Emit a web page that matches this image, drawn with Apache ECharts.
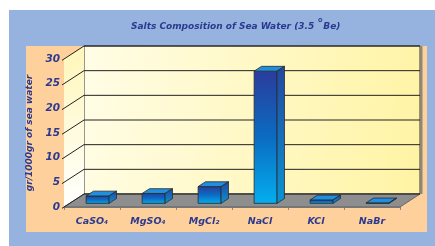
<!DOCTYPE html>
<html>
<head>
<meta charset="utf-8">
<script src="https://cdn.jsdelivr.net/npm/echarts@6/dist/echarts.min.js"></script>
<style>
  html, body { margin: 0; padding: 0; background: #ffffff; }
  #chart { width: 435px; height: 246px; }
</style>
</head>
<body>
<div id="chart"></div>
<script>
// data
var categories = ['CaSO₄', 'MgSO₄', 'MgCl₂', 'NaCl', 'KCl', 'NaBr'];
var saltValues = [1.5, 2.0, 3.4, 26.8, 0.7, 0.1];
var yTicks = [0, 5, 10, 15, 20, 25, 30];

// 3d depth of the box and where bars sit in it
var DX = 20, DY = -13;
var F0 = 0.28, F1 = 0.65;
var NAVY = '#2b3990';
var FONT = 'DejaVu Sans';

var myChart = echarts.init(document.getElementById('chart'));

function renderWalls(params, api) {
  var cs = params.coordSys;
  var x0 = cs.x, x1 = cs.x + cs.width, yt = cs.y, yb = cs.y + cs.height;
  var children = [];
  // back wall
  children.push({
    type: 'rect',
    shape: { x: x0 + DX, y: yt + DY, width: cs.width, height: cs.height },
    style: {
      fill: new echarts.graphic.LinearGradient(0, 0, 1, 0.3, [
        { offset: 0, color: '#fffde6' },
        { offset: 1, color: '#fff4a6' }
      ]),
      stroke: '#333', lineWidth: 1
    }
  });
  // shadow strip on the right of back wall
  children.push({
    type: 'line',
    shape: { x1: x1 + DX + 1.5, y1: yt + DY, x2: x1 + DX + 1.5, y2: yb + DY },
    style: { stroke: '#8a8a7a', lineWidth: 2 }
  });
  // left wall
  children.push({
    type: 'polygon',
    shape: { points: [[x0, yt], [x0 + DX, yt + DY], [x0 + DX, yb + DY], [x0, yb]] },
    style: {
      fill: new echarts.graphic.LinearGradient(0, 0, 1, 1, [
        { offset: 0, color: '#fff6b8' },
        { offset: 1, color: '#ffffff' }
      ])
    }
  });
  // floor
  children.push({
    type: 'polygon',
    shape: { points: [[x0, yb], [x1, yb], [x1 + DX, yb + DY], [x0 + DX, yb + DY]] },
    style: { fill: '#8e8e8e', stroke: '#555', lineWidth: 0.8 }
  });
  // grid lines on left and back walls
  yTicks.forEach(function (v) {
    var y = api.coord([0, v])[1];
    children.push({
      type: 'polyline',
      shape: { points: [[x0 - 2, y + 1.3], [x0 + DX, y + DY], [x1 + DX, y + DY]] },
      style: { stroke: '#222', lineWidth: 1, fill: null }
    });
  });
  return { type: 'group', children: children };
}

function renderBar(params, api) {
  var i = api.value(0), v = api.value(1);
  var base = api.coord([i, 0]);
  var top = api.coord([i, v]);
  var w = api.size([1, 0])[0] * 0.41;
  var fx = base[0] - w / 2 + F0 * DX;
  var fy0 = base[1] + F0 * DY;
  var fy1 = top[1] + F0 * DY;
  var ddx = (F1 - F0) * DX, ddy = (F1 - F0) * DY;
  var stroke = { stroke: '#2a2a2a', lineWidth: 0.8 };
  return {
    type: 'group',
    children: [
      {
        type: 'rect',
        shape: { x: fx, y: fy1, width: w, height: fy0 - fy1 },
        style: Object.assign({
          fill: new echarts.graphic.LinearGradient(0, 0, 0, 1, [
            { offset: 0, color: '#2a3c9c' },
            { offset: 0.5, color: '#0b6cc2' },
            { offset: 1, color: '#03aeef' }
          ])
        }, stroke)
      },
      {
        type: 'polygon',
        shape: { points: [[fx, fy1], [fx + w, fy1], [fx + w + ddx, fy1 + ddy], [fx + ddx, fy1 + ddy]] },
        style: Object.assign({ fill: '#1f8fdf' }, stroke)
      },
      {
        type: 'polygon',
        shape: { points: [[fx + w, fy1], [fx + w + ddx, fy1 + ddy], [fx + w + ddx, fy0 + ddy], [fx + w, fy0]] },
        style: Object.assign({
          fill: new echarts.graphic.LinearGradient(0, 0, 0, 1, [
            { offset: 0, color: '#23479f' },
            { offset: 1, color: '#0a94d4' }
          ])
        }, stroke)
      }
    ]
  };
}

var option = {
  animation: false,
  graphic: [
    { type: 'rect', z: -10, silent: true, shape: { x: 9, y: 10, width: 426, height: 236 }, style: { fill: '#95b3de' } },
    { type: 'rect', z: -9, silent: true, shape: { x: 26, y: 46, width: 401, height: 186 }, style: { fill: '#fdd09c' } }
  ],
  title: {
    text: 'Salts Composition of Sea Water (3.5 {d|°}Be)',
    left: 126,
    top: 13,
    textStyle: {
      fontFamily: FONT,
      fontSize: 9,
      fontWeight: 'bold',
      fontStyle: 'italic',
      color: NAVY,
      rich: {
        d: { fontFamily: FONT, fontSize: 12, fontWeight: 'bold', color: NAVY, padding: [0, 0, 5, 0] }
      }
    }
  },
  grid: { left: 64, right: 35, top: 59, bottom: 39 },
  xAxis: {
    type: 'category',
    data: categories,
    axisLine: { show: true, lineStyle: { color: '#8e8e8e' } },
    axisTick: { show: true, length: 3, lineStyle: { color: '#888' } },
    axisLabel: {
      interval: 0,
      margin: 10,
      fontFamily: FONT,
      fontSize: 9.5,
      fontWeight: 'bold',
      fontStyle: 'italic',
      color: NAVY
    },
    splitLine: { show: false }
  },
  yAxis: {
    type: 'value',
    min: 0,
    max: 30,
    interval: 5,
    name: 'gr/1000gr of sea water',
    nameLocation: 'middle',
    nameRotate: 90,
    nameGap: 25,
    nameTextStyle: {
      fontFamily: FONT,
      fontSize: 9,
      fontWeight: 'bold',
      fontStyle: 'italic',
      color: NAVY
    },
    axisLine: { show: false },
    axisTick: { show: false },
    splitLine: { show: false },
    axisLabel: {
      margin: 4,
      fontFamily: FONT,
      fontSize: 10.5,
      fontWeight: 'bold',
      fontStyle: 'italic',
      color: NAVY
    }
  },
  series: [
    {
      type: 'custom',
      silent: true,
      renderItem: renderWalls,
      data: [[0, 0]],
      z: 1
    },
    {
      type: 'custom',
      silent: true,
      renderItem: renderBar,
      encode: { x: 0, y: 1 },
      data: saltValues.map(function (v, i) { return [i, v]; }),
      z: 2
    }
  ]
};

myChart.setOption(option, true);
</script>
</body>
</html>
